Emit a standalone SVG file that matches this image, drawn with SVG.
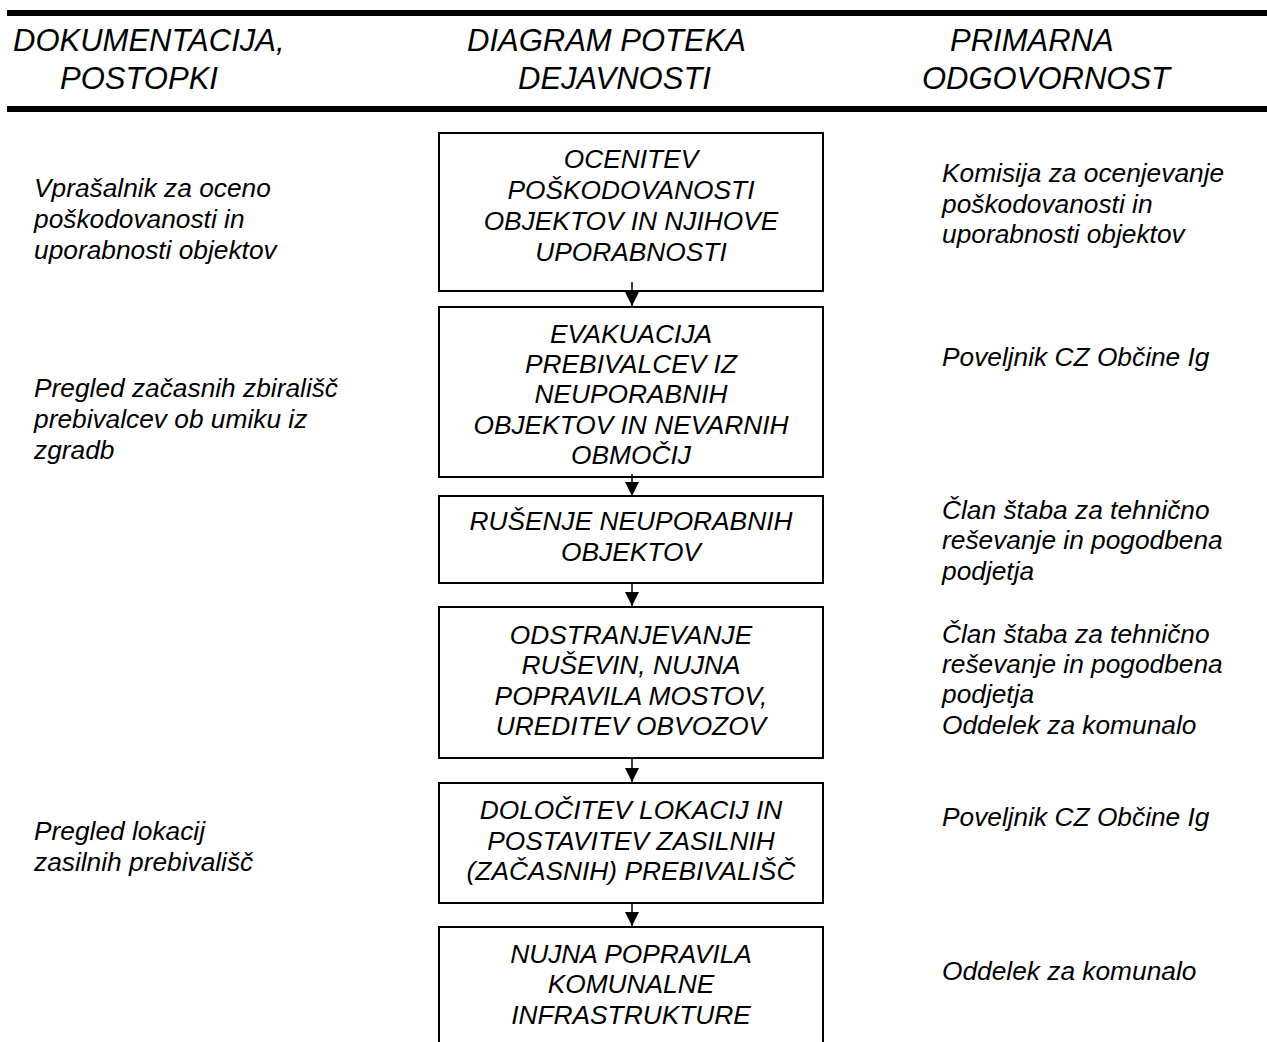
<svg xmlns="http://www.w3.org/2000/svg" width="1267" height="1042" viewBox="0 0 1267 1042">
<style>
text{font-family:"Liberation Sans",Arial,sans-serif;font-style:italic;fill:#000}
.h{font-size:31px}
.t{font-size:26.3px}
.c{text-anchor:middle}
.box{fill:#fff;stroke:#000;stroke-width:2}
.rule{fill:#000}
.conn{stroke:#000;stroke-width:1.5;fill:none;marker-end:url(#ah)}
</style>
<defs>
<marker id="ah" viewBox="0 0 14 14" refX="14" refY="7" markerWidth="14" markerHeight="14" markerUnits="userSpaceOnUse" orient="auto">
<path d="M0,0 L14,7 L0,14 Z" fill="#000"/>
</marker>
</defs>
<rect width="1267" height="1042" fill="#fff"/>
<g id="header">
<rect class="rule" x="7" y="10" width="1260" height="6"/>
<rect class="rule" x="7" y="106" width="1260" height="6"/>
<text class="h" x="13" y="51">DOKUMENTACIJA,</text>
<text class="h" x="60" y="89">POSTOPKI</text>
<text class="h" x="467" y="51">DIAGRAM POTEKA</text>
<text class="h" x="518" y="89">DEJAVNOSTI</text>
<text class="h" x="950" y="51">PRIMARNA</text>
<text class="h" x="922" y="89">ODGOVORNOST</text>
</g>
<g id="documents">
<text class="t" x="34" y="197">Vprašalnik za oceno</text>
<text class="t" x="34" y="228">poškodovanosti in</text>
<text class="t" x="34" y="259">uporabnosti objektov</text>
<text class="t" x="34" y="397">Pregled začasnih zbirališč</text>
<text class="t" x="34" y="428">prebivalcev ob umiku iz</text>
<text class="t" x="34" y="459">zgradb</text>
<text class="t" x="34" y="840">Pregled lokacij</text>
<text class="t" x="34" y="871">zasilnih prebivališč</text>
</g>
<g id="responsibility">
<text class="t" x="942" y="182">Komisija za ocenjevanje</text>
<text class="t" x="942" y="213">poškodovanosti in</text>
<text class="t" x="942" y="243">uporabnosti objektov</text>
<text class="t" x="942" y="366">Poveljnik CZ Občine Ig</text>
<text class="t" x="942" y="519">Član štaba za tehnično</text>
<text class="t" x="942" y="549">reševanje in pogodbena</text>
<text class="t" x="942" y="580">podjetja</text>
<text class="t" x="942" y="643">Član štaba za tehnično</text>
<text class="t" x="942" y="673">reševanje in pogodbena</text>
<text class="t" x="942" y="703">podjetja</text>
<text class="t" x="942" y="734">Oddelek za komunalo</text>
<text class="t" x="942" y="826">Poveljnik CZ Občine Ig</text>
<text class="t" x="942" y="980">Oddelek za komunalo</text>
</g>
<g id="n1">
<rect class="box" x="439" y="133" width="384" height="158"/>
<text class="t c" x="631" y="168">OCENITEV</text>
<text class="t c" x="631" y="199">POŠKODOVANOSTI</text>
<text class="t c" x="631" y="230">OBJEKTOV IN NJIHOVE</text>
<text class="t c" x="631" y="261">UPORABNOSTI</text>
</g>
<g id="n2">
<rect class="box" x="439" y="307" width="384" height="170"/>
<text class="t c" x="631" y="343">EVAKUACIJA</text>
<text class="t c" x="631" y="373">PREBIVALCEV IZ</text>
<text class="t c" x="631" y="403">NEUPORABNIH</text>
<text class="t c" x="631" y="434">OBJEKTOV IN NEVARNIH</text>
<text class="t c" x="631" y="464">OBMOČIJ</text>
</g>
<g id="n3">
<rect class="box" x="439" y="496" width="384" height="87"/>
<text class="t c" x="631" y="530">RUŠENJE NEUPORABNIH</text>
<text class="t c" x="631" y="561">OBJEKTOV</text>
</g>
<g id="n4">
<rect class="box" x="439" y="607" width="384" height="151"/>
<text class="t c" x="631" y="644">ODSTRANJEVANJE</text>
<text class="t c" x="631" y="674">RUŠEVIN, NUJNA</text>
<text class="t c" x="631" y="705">POPRAVILA MOSTOV,</text>
<text class="t c" x="631" y="735">UREDITEV OBVOZOV</text>
</g>
<g id="n5">
<rect class="box" x="439" y="783" width="384" height="120"/>
<text class="t c" x="631" y="819">DOLOČITEV LOKACIJ IN</text>
<text class="t c" x="631" y="850">POSTAVITEV ZASILNIH</text>
<text class="t c" x="631" y="880">(ZAČASNIH) PREBIVALIŠČ</text>
</g>
<g id="n6">
<rect class="box" x="439" y="927" width="384" height="140"/>
<text class="t c" x="631" y="963">NUJNA POPRAVILA</text>
<text class="t c" x="631" y="993">KOMUNALNE</text>
<text class="t c" x="631" y="1024">INFRASTRUKTURE</text>
</g>
<g id="connectors">
<line class="conn" x1="632" y1="282" x2="632" y2="306"/>
<line class="conn" x1="632" y1="474" x2="632" y2="496"/>
<line class="conn" x1="632" y1="583" x2="632" y2="606"/>
<line class="conn" x1="632" y1="758" x2="632" y2="782"/>
<line class="conn" x1="632" y1="903" x2="632" y2="926"/>
</g>
</svg>
